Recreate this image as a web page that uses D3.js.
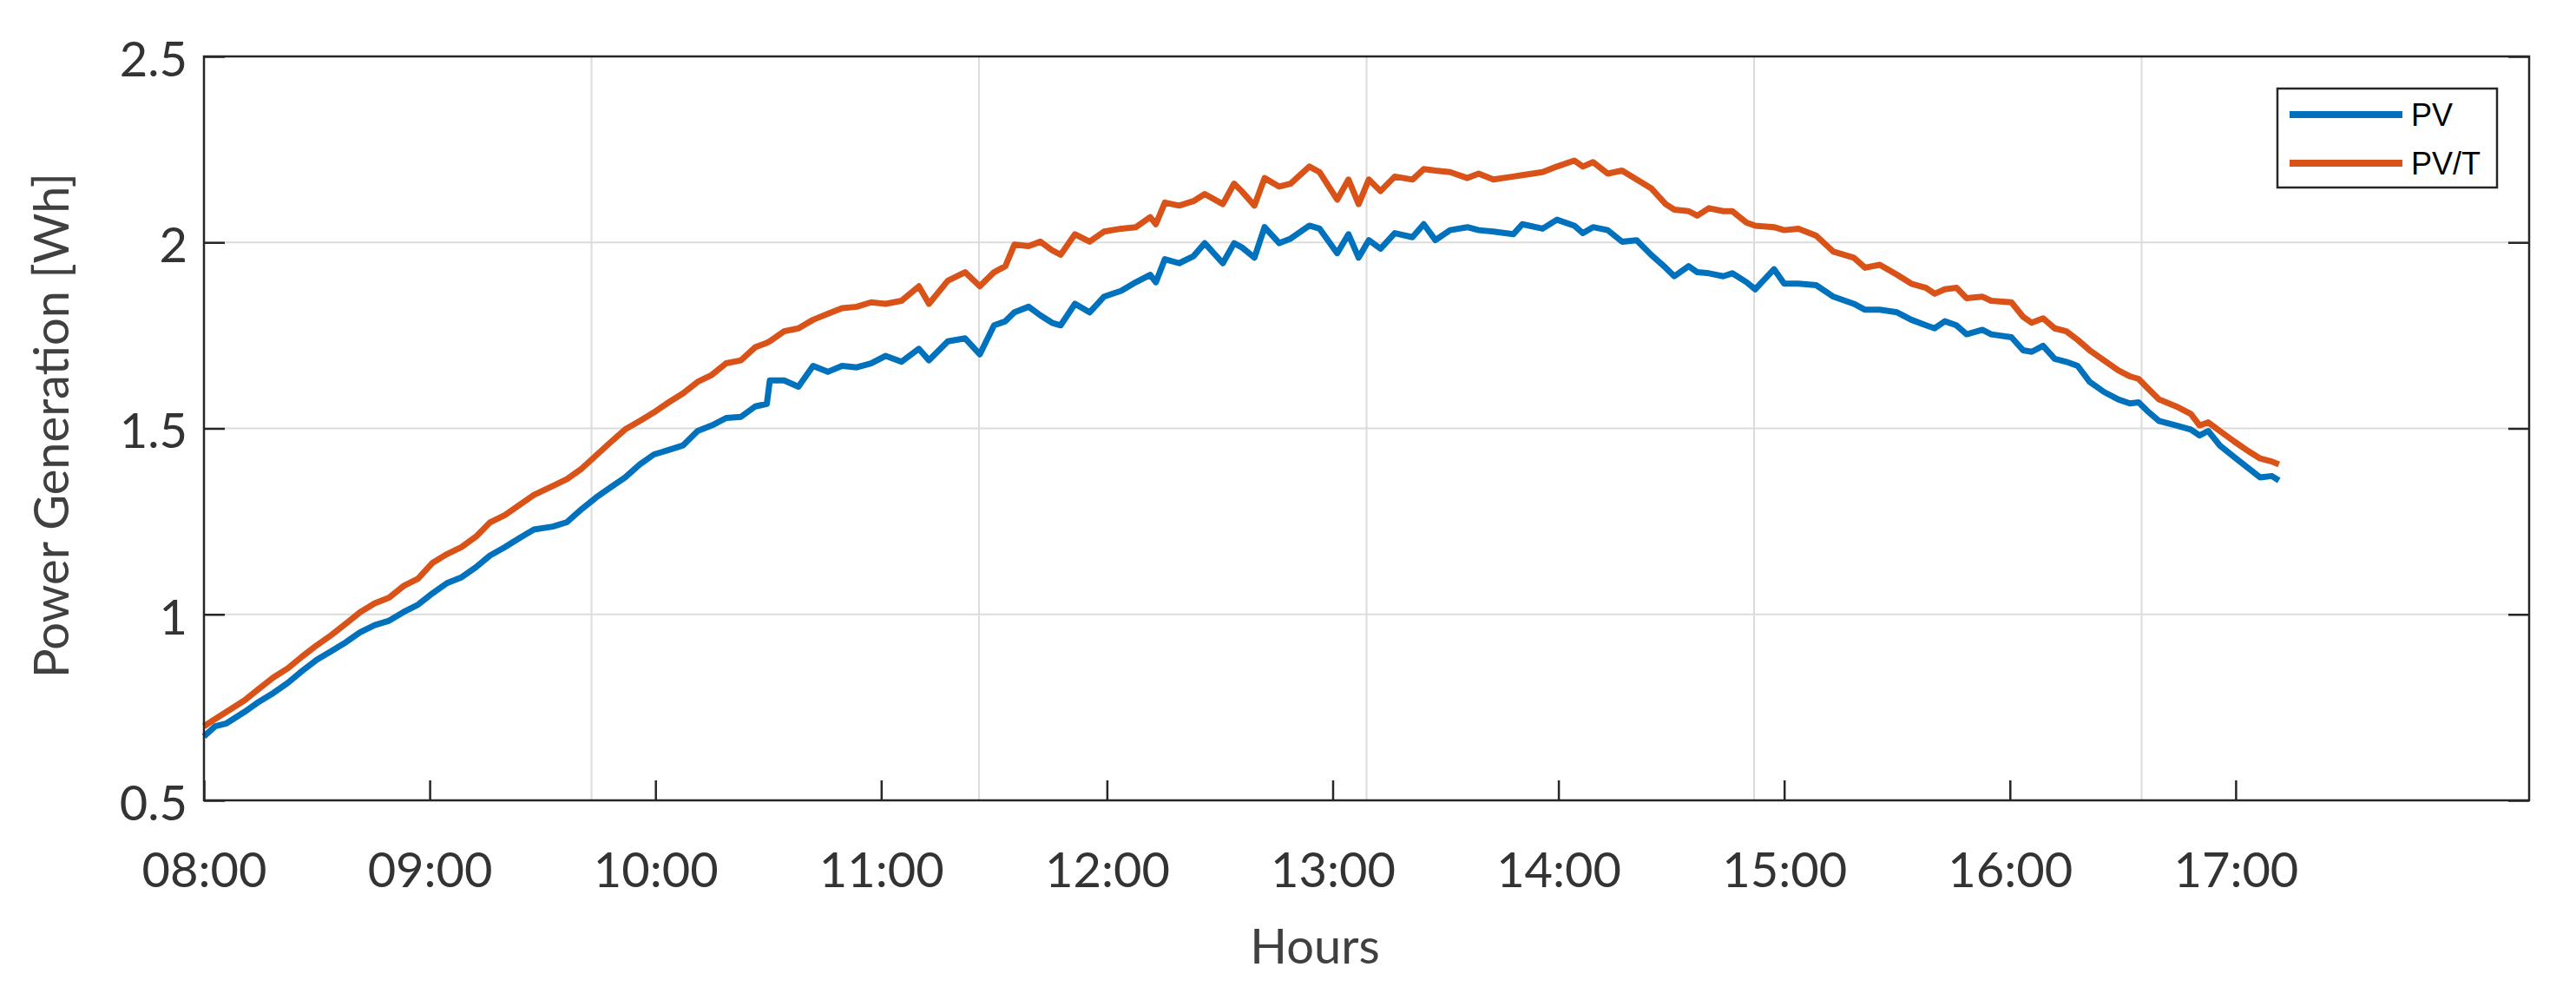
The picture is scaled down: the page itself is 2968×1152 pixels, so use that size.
<!DOCTYPE html>
<html>
<head>
<meta charset="utf-8">
<script src="https://cdn.jsdelivr.net/npm/d3@7"></script>
<style>
  body { margin: 0; background: #fff; }
  svg text { font-family: Lato, "Open Sans", sans-serif; }
</style>
</head>
<body>
<svg id="chart"></svg>
<script>
// time in minutes after 08:00
const minutes = [
  0, 3, 6, 10.8, 14.6, 18.5, 22.3, 26, 30, 33.8, 37.7, 41.5, 45.4, 49.2, 53, 56.9, 60.8, 64.6, 68.5, 72.3, 76, 80, 83.8, 87.7,
  92.7, 96.5, 100.4, 104.2, 108, 111.9, 115.8, 119.6, 123.5, 127.3, 131.2, 135, 138.8, 142.7, 146.5, 149.6, 150.4, 154.2, 158, 161.9, 165.8, 169.6, 173.5, 177.3, 181.2,
  185.4, 190, 192.7, 197.7, 202.3, 206.2, 210, 213, 215.4, 219.2, 222.3, 225.4, 227.7, 231.5, 235.4, 239.2, 243.8, 247.7, 251.5, 253, 255.4, 259.2, 263, 266, 270.8, 273.8,
  275.8, 279.2, 281.9, 285.8, 288.8, 293.8, 296.5, 301.2, 304.2, 306.9, 309.6, 312.7, 316.5, 321.2, 324.2, 327.3, 331.2, 335.8, 338.8, 342.7, 348, 350.4, 355.8, 359.6, 364.2, 366.5,
  369.2, 373.1, 376.9, 380.8, 384.6, 388.5, 390.8, 394.6, 396.9, 400, 403.8, 406.2, 410, 412.3, 417.3, 420, 423.8, 428.5, 433.1, 438.5, 441.5, 445.4, 450, 453.8, 457.7, 460,
  462.7, 465.8, 468.5, 472.7, 475, 480.4, 483.5, 485.8, 488.8, 491.9, 495, 498, 501.2, 505, 508.8, 511.9, 514.2, 516.5, 519.6, 524.2, 528.1, 530.4, 532.7, 535.8, 539.6, 543.5, 546.5, 549.6, 551.5
];
const pv = [
  0.672, 0.699, 0.707, 0.738, 0.765, 0.789, 0.816, 0.847, 0.878, 0.901, 0.925, 0.952, 0.971, 0.983, 1.006, 1.026, 1.057, 1.084, 1.100, 1.127, 1.158, 1.181, 1.205, 1.228,
  1.236, 1.248, 1.283, 1.314, 1.341, 1.368, 1.403, 1.430, 1.442, 1.454, 1.493, 1.508, 1.528, 1.531, 1.559, 1.566, 1.629, 1.629, 1.612, 1.668, 1.652, 1.668, 1.664, 1.675, 1.695,
  1.679, 1.714, 1.683, 1.734, 1.742, 1.699, 1.777, 1.788, 1.812, 1.827, 1.804, 1.784, 1.777, 1.835, 1.812, 1.854, 1.870, 1.893, 1.913, 1.893, 1.955, 1.944, 1.963, 1.998, 1.944, 1.998,
  1.987, 1.959, 2.041, 1.998, 2.010, 2.045, 2.037, 1.971, 2.022, 1.959, 2.006, 1.983, 2.025, 2.014, 2.049, 2.006, 2.033, 2.041, 2.033, 2.029, 2.022, 2.049, 2.037, 2.061, 2.045, 2.025,
  2.041, 2.033, 2.002, 2.006, 1.967, 1.932, 1.909, 1.936, 1.920, 1.917, 1.909, 1.917, 1.893, 1.874, 1.928, 1.889, 1.889, 1.885, 1.854, 1.835, 1.819, 1.819, 1.812, 1.792, 1.777, 1.769,
  1.788, 1.777, 1.753, 1.765, 1.753, 1.745, 1.710, 1.706, 1.722, 1.687, 1.679, 1.668, 1.625, 1.598, 1.578, 1.567, 1.570, 1.547, 1.520, 1.508, 1.497, 1.481, 1.493, 1.454, 1.423, 1.392, 1.368, 1.372, 1.360
];
const pvt = [
  0.699, 0.719, 0.738, 0.769, 0.800, 0.831, 0.855, 0.886, 0.917, 0.944, 0.975, 1.006, 1.030, 1.045, 1.076, 1.096, 1.139, 1.162, 1.181, 1.209, 1.247, 1.267, 1.294, 1.321,
  1.345, 1.364, 1.392, 1.427, 1.462, 1.497, 1.520, 1.543, 1.570, 1.594, 1.625, 1.644, 1.675, 1.683, 1.718, 1.730, 1.734, 1.761, 1.769, 1.792, 1.808, 1.823, 1.827, 1.839, 1.835,
  1.843, 1.882, 1.835, 1.897, 1.920, 1.882, 1.920, 1.936, 1.994, 1.990, 2.002, 1.979, 1.967, 2.022, 2.002, 2.029, 2.037, 2.041, 2.068, 2.049, 2.107, 2.099, 2.111, 2.130, 2.103, 2.158,
  2.138, 2.099, 2.173, 2.150, 2.158, 2.204, 2.189, 2.115, 2.169, 2.103, 2.169, 2.138, 2.177, 2.169, 2.197, 2.193, 2.189, 2.173, 2.185, 2.169, 2.177, 2.181, 2.189, 2.204, 2.220, 2.204,
  2.216, 2.185, 2.193, 2.169, 2.146, 2.103, 2.088, 2.084, 2.072, 2.092, 2.084, 2.084, 2.053, 2.045, 2.041, 2.033, 2.037, 2.018, 1.975, 1.959, 1.932, 1.940, 1.913, 1.889, 1.878, 1.862,
  1.874, 1.878, 1.850, 1.854, 1.843, 1.839, 1.800, 1.784, 1.796, 1.769, 1.761, 1.738, 1.710, 1.683, 1.656, 1.640, 1.633, 1.609, 1.578, 1.559, 1.539, 1.508, 1.516, 1.493, 1.465, 1.438, 1.419, 1.411, 1.403
];
const hourLabels = ['08:00', '09:00', '10:00', '11:00', '12:00', '13:00', '14:00', '15:00', '16:00', '17:00'];
const yTicks = [0.5, 1, 1.5, 2, 2.5];
const seriesNames = ['PV', 'PV/T'];

const W = 2968, H = 1152;
const box = { left: 235, right: 2914, top: 65, bottom: 922 };
const X_END = 618;     // axis runs on to about 18:18
const GRID_DIV = 6;    // the vertical grid splits the axis in 6, not on the hours
const AXIS_COLOR = '#262626';
const COLORS = ['#0072BD', '#D95319'];

const svg = d3.select('#chart').attr('width', W).attr('height', H);

const x = d3.scaleLinear().domain([0, X_END]).range([box.left, box.right]);
const y = d3.scaleLinear().domain([0.5, 2.5]).range([box.bottom, box.top]);

// grid
const grid = svg.append('g').attr('stroke', '#dcdcdc').attr('stroke-width', 2);
grid.selectAll('line.h').data(yTicks.slice(1, -1)).join('line')
  .attr('class', 'h')
  .attr('x1', box.left).attr('x2', box.right)
  .attr('y1', d => y(d)).attr('y2', d => y(d));
grid.selectAll('line.v').data(d3.range(1, GRID_DIV).map(i => X_END * i / GRID_DIV)).join('line')
  .attr('class', 'v')
  .attr('x1', d => x(d)).attr('x2', d => x(d))
  .attr('y1', box.top).attr('y2', box.bottom);

// series
const line = d3.line().x((d, i) => x(minutes[i])).y(d => y(d));
[pv, pvt].forEach((values, k) => {
  svg.append('path')
    .datum(values)
    .attr('fill', 'none')
    .attr('stroke', COLORS[k])
    .attr('stroke-width', 7)
    .attr('stroke-linejoin', 'round')
    .attr('d', line);
});

// axes, ticks pointing inwards like matlab
var styleAxis = function(g, fontSize) {
  g.select('.domain').remove();
  g.selectAll('.tick line').attr('stroke', AXIS_COLOR).attr('stroke-width', 2.5);
  g.selectAll('.tick text').attr('fill', '#333').style('font-size', fontSize + 'px');
  return g;
};

svg.append('g')
  .attr('transform', 'translate(0,' + box.bottom + ')')
  .call(d3.axisBottom(x)
    .tickValues(hourLabels.map((d, i) => i * 60))
    .tickFormat((d, i) => hourLabels[i])
    .tickSizeInner(-23).tickSizeOuter(0).tickPadding(60))
  .call(g => styleAxis(g, 56));

svg.append('g')
  .attr('transform', 'translate(' + box.left + ',0)')
  .call(d3.axisLeft(y)
    .tickValues(yTicks)
    .tickFormat(d3.format(''))
    .tickSizeInner(-24).tickSizeOuter(0).tickPadding(19))
  .call(g => styleAxis(g, 56))
  .call(g => g.selectAll('.tick text').attr('dy', '0.4em'));

svg.append('g')
  .attr('transform', 'translate(' + box.right + ',0)')
  .call(d3.axisRight(y).tickValues(yTicks).tickFormat('').tickSizeInner(-24).tickSizeOuter(0))
  .call(g => styleAxis(g, 56));

svg.append('rect')
  .attr('x', box.left).attr('y', box.top)
  .attr('width', box.right - box.left).attr('height', box.bottom - box.top)
  .attr('fill', 'none').attr('stroke', AXIS_COLOR).attr('stroke-width', 2.5);

// axis titles
svg.append('text')
  .attr('x', 1515).attr('y', 1110)
  .attr('text-anchor', 'middle')
  .attr('fill', '#404040')
  .style('font-size', '56px')
  .text('Hours');

svg.append('text')
  .attr('transform', 'translate(79,490) rotate(-90)')
  .attr('text-anchor', 'middle')
  .attr('fill', '#404040')
  .style('font-size', '56px')
  .text('Power Generation [Wh]');

// legend
const legend = svg.append('g').attr('transform', 'translate(2624,102)');
legend.append('rect')
  .attr('width', 253).attr('height', 114)
  .attr('fill', '#fff').attr('stroke', AXIS_COLOR).attr('stroke-width', 2.5);
seriesNames.forEach((name, k) => {
  var ly = 30 + k * 56;
  legend.append('line')
    .attr('x1', 14).attr('x2', 144)
    .attr('y1', ly).attr('y2', ly)
    .attr('stroke', COLORS[k]).attr('stroke-width', 8);
  legend.append('text')
    .attr('x', 154).attr('y', ly)
    .attr('dy', '0.36em')
    .attr('fill', '#000')
    .style('font-family', '"Liberation Sans", Arial, sans-serif')
    .style('font-size', '36px')
    .text(name);
});
</script>
</body>
</html>
